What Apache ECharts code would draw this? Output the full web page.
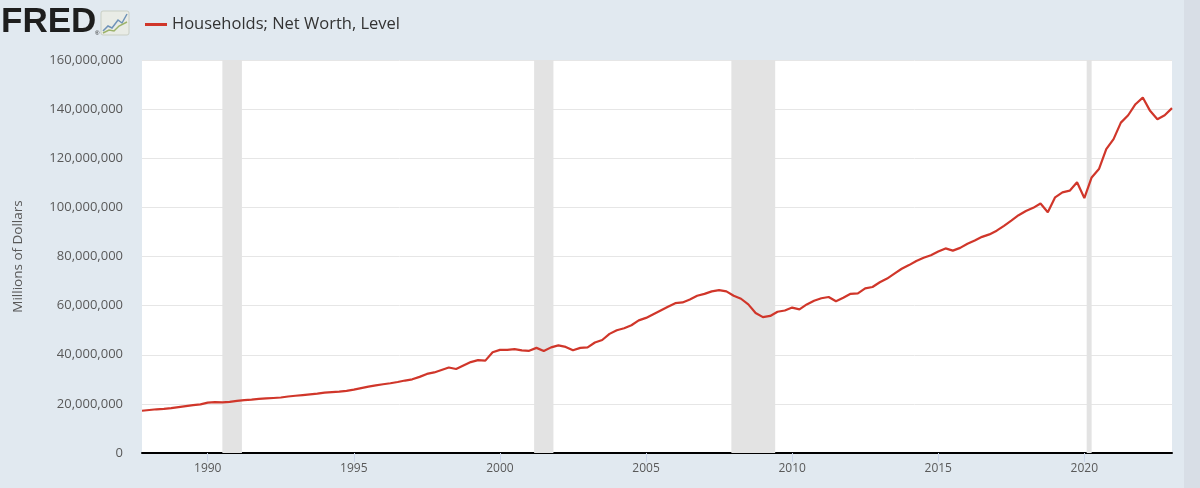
<!DOCTYPE html>
<html>
<head>
<meta charset="utf-8">
<script src="https://cdn.jsdelivr.net/npm/echarts@6/dist/echarts.min.js"></script>
<style>
  html, body { margin: 0; padding: 0; background: #e1e9f0; }
  #chart { width: 1200px; height: 488px; }
</style>
</head>
<body>
<div id="chart"></div>
<script>
// quarterly observations, first one is 1987 Q4
var startYear = 1987.75;
var netWorth = [
  17.2e6,
  17.5e6, 17.8e6, 18.0e6, 18.3e6,
  18.7e6, 19.1e6, 19.5e6, 19.8e6,
  20.5e6, 20.7e6, 20.6e6, 20.8e6,
  21.2e6, 21.5e6, 21.7e6, 22.0e6,
  22.2e6, 22.4e6, 22.6e6, 23.0e6,
  23.3e6, 23.6e6, 23.9e6, 24.2e6,
  24.6e6, 24.8e6, 25.0e6, 25.3e6,
  25.8e6, 26.4e6, 27.0e6, 27.5e6,
  28.0e6, 28.4e6, 28.9e6, 29.5e6,
  30.0e6, 31.0e6, 32.2e6, 32.8e6,
  33.8e6, 34.8e6, 34.2e6, 35.6e6,
  37.0e6, 37.8e6, 37.6e6, 41.0e6,
  42.0e6, 42.0e6, 42.3e6, 41.8e6,
  41.6e6, 42.8e6, 41.5e6, 43.0e6,
  43.8e6, 43.2e6, 41.8e6, 42.8e6,
  43.0e6, 45.0e6, 46.0e6, 48.5e6,
  50.0e6, 50.8e6, 52.0e6, 54.0e6,
  55.0e6, 56.5e6, 58.0e6, 59.5e6,
  61.0e6, 61.3e6, 62.5e6, 64.0e6,
  64.8e6, 65.8e6, 66.3e6, 65.8e6,
  64.0e6, 62.8e6, 60.5e6, 57.0e6,
  55.3e6, 55.8e6, 57.5e6, 58.0e6,
  59.2e6, 58.5e6, 60.5e6, 62.0e6,
  63.0e6, 63.5e6, 61.8e6, 63.2e6,
  64.8e6, 65.0e6, 67.0e6, 67.6e6,
  69.5e6, 71.0e6, 73.0e6, 75.0e6,
  76.5e6, 78.2e6, 79.5e6, 80.5e6,
  82.0e6, 83.3e6, 82.4e6, 83.5e6,
  85.2e6, 86.5e6, 88.0e6, 89.0e6,
  90.5e6, 92.5e6, 94.6e6, 96.8e6,
  98.5e6, 99.8e6, 101.6e6, 98.0e6,
  104.1e6, 106.1e6, 106.8e6, 110.2e6,
  103.8e6, 112.2e6, 115.6e6, 123.7e6,
  127.8e6, 134.5e6, 137.5e6, 142.0e6,
  144.7e6, 139.3e6, 135.9e6, 137.5e6,
  140.4e6
];
var yearTicks = [1990, 1995, 2000, 2005, 2010, 2015, 2020];
// recession periods as decimal years
var recessions = [
  [1990.5, 1991.17],
  [2001.17, 2001.83],
  [2007.92, 2009.42],
  [2020.08, 2020.25]
];

var seriesData = netWorth.map(function (v, i) {
  return [startYear + i * 0.25, v];
});

var chart = echarts.init(document.getElementById('chart'));
var font = '"Open Sans", "Noto Sans", sans-serif';

var option = {
  animation: false,
  backgroundColor: '#e1e9f0',
  textStyle: { fontFamily: font },
  graphic: [
    {
      type: 'text', left: 1, top: 5,
      style: { text: 'FRED', fontSize: 35, fontWeight: 900, fill: '#1e1e1e', fontFamily: '"Liberation Sans", Arial, sans-serif' }
    },
    {
      type: 'text', left: 95, top: 30,
      style: { text: '®', fontSize: 6, fill: '#222' }
    },
    {
      type: 'rect', shape: { x: 101, y: 11, width: 28, height: 24, r: 2 },
      style: { fill: '#e9ece6', stroke: '#c9cfc4', lineWidth: 1 }
    },
    {
      type: 'polyline', shape: { points: [[103, 31], [108, 26], [112, 28], [118, 20], [122, 23], [127, 14]] },
      style: { stroke: '#6f93b8', lineWidth: 1.5, fill: null }
    },
    {
      type: 'polyline', shape: { points: [[103, 33], [109, 30], [114, 31], [119, 26], [127, 22]] },
      style: { stroke: '#9db36a', lineWidth: 1.5, fill: null }
    },
    {
      type: 'rect', shape: { x: 1184, y: 0, width: 16, height: 488 },
      style: { fill: '#d8dee6' }
    }
  ],
  legend: {
    left: 140, top: 11,
    icon: 'rect', itemWidth: 22, itemHeight: 3, itemGap: 5,
    textStyle: { fontSize: 16.5, color: '#333', fontFamily: font },
    data: ['Households; Net Worth, Level']
  },
  grid: {
    left: 142, right: 28, top: 60, bottom: 35,
    show: true, backgroundColor: '#ffffff', borderWidth: 0
  },
  xAxis: {
    type: 'value',
    min: startYear, max: 2023,
    axisLine: { show: true, onZero: false, lineStyle: { color: '#000', width: 2 } },
    axisTick: { show: true, customValues: yearTicks, length: 9, lineStyle: { color: '#ccd6eb' } },
    axisLabel: {
      customValues: yearTicks, margin: 10,
      color: '#595959', fontSize: 12, fontFamily: font,
      formatter: function (v) { return String(v); }
    },
    splitLine: { show: false }
  },
  yAxis: {
    type: 'value',
    min: 0, max: 160e6, interval: 20e6,
    name: 'Millions of Dollars',
    nameLocation: 'middle', nameGap: 117, nameRotate: 90,
    nameTextStyle: { color: '#595959', fontSize: 13.5, fontFamily: font },
    axisLine: { show: false },
    axisTick: { show: false },
    axisLabel: {
      margin: 19, color: '#595959', fontSize: 13, fontFamily: font,
      formatter: function (v) { return v.toLocaleString('en-US'); }
    },
    splitLine: { lineStyle: { color: '#e6e6e6', width: 1 } }
  },
  series: [
    {
      name: 'Households; Net Worth, Level',
      type: 'line',
      data: seriesData,
      showSymbol: false,
      color: '#d0362a',
      lineStyle: { width: 2.2, color: '#d0362a' },
      z: 3,
      markArea: {
        silent: true,
        itemStyle: { color: '#e3e3e3' },
        data: recessions.map(function (r) { return [{ xAxis: r[0] }, { xAxis: r[1] }]; })
      }
    }
  ]
};

chart.setOption(option);
</script>
</body>
</html>
